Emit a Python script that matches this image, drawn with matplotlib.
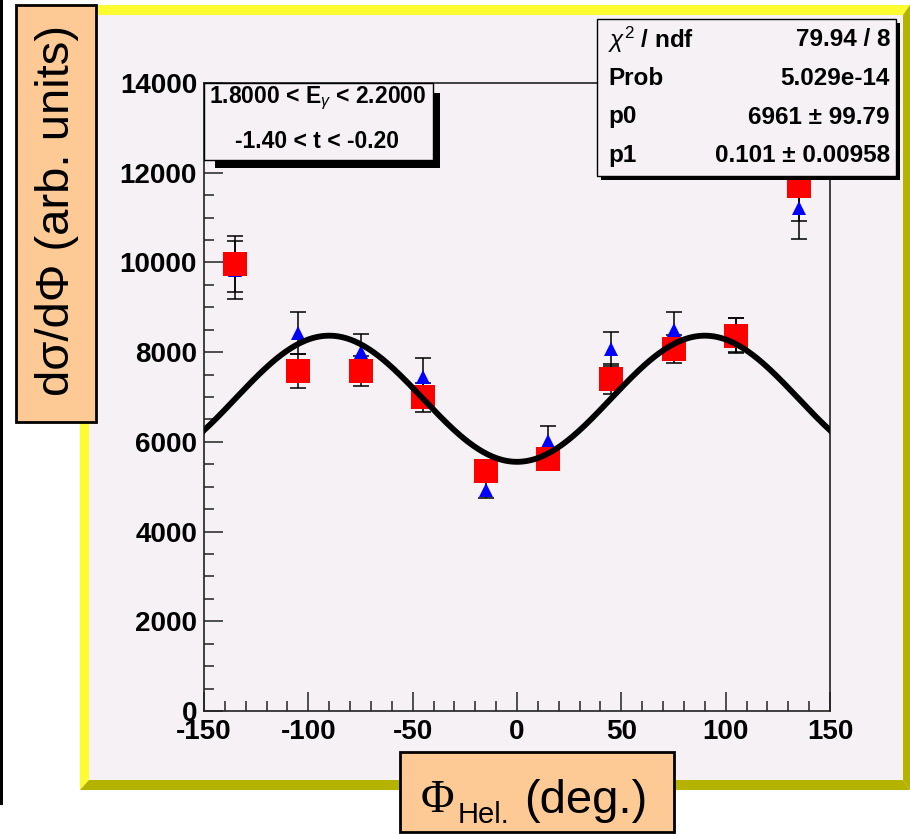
import numpy as np
import matplotlib
matplotlib.use("Agg")
import matplotlib.pyplot as plt
from matplotlib.patches import Rectangle, Polygon

plt.rcParams['font.family'] = ['Liberation Sans', 'DejaVu Sans']
plt.rcParams['mathtext.fontset'] = 'custom'
plt.rcParams['mathtext.rm'] = 'Liberation Sans'
plt.rcParams['mathtext.it'] = 'Liberation Sans:italic'
plt.rcParams['mathtext.bf'] = 'Liberation Sans:bold'

# phi bins (deg.)
phi = [-135, -105, -75, -45, -15, 15, 45, 75, 105, 135]
# red squares
red_y = [9960, 7580, 7580, 6990, 5350, 5620, 7400, 8070, 8370, 11700]
red_err = [620, 380, 330, 325, 220, 220, 330, 310, 400, 780]
# blue triangles
blue_y = [9830, 8430, 8000, 7450, 4930, 6020, 8070, 8490, 8380, 11210]
blue_err = [645, 465, 400, 420, 180, 335, 380, 400, 380, 690]

# fit results
chi2, ndf = 79.94, 8
prob = "5.029e-14"
p0, p0_err = 6961, 99.79
p1, p1_err = 0.101, 0.00958

x_ticks = [-150, -100, -50, 0, 50, 100, 150]
y_ticks = [0, 2000, 4000, 6000, 8000, 10000, 12000, 14000]

W, H = 910, 834
bg = '#f5f1f5'
yellow = '#fcfc30'
olive = '#b4b400'
peach = '#fdca96'

fig = plt.figure(figsize=(W / 100, H / 100), dpi=100)
fig.patch.set_facecolor('white')


def fx(x):
    return x / W


def fy(y):
    return 1 - y / H


def box(x0, y0, x1, y1, **kw):
    r = Rectangle((fx(x0), fy(y1)), (x1 - x0) / W, (y1 - y0) / H,
                  transform=fig.transFigure, **kw)
    fig.patches.append(r)
    return r


def poly(pts, **kw):
    p = Polygon([(fx(a), fy(b)) for a, b in pts], closed=True,
                transform=fig.transFigure, **kw)
    fig.patches.append(p)


# canvas frame with bevelled border
box(0, 0, 3, 805, facecolor='black', edgecolor='none', zorder=-2)
box(80, 5, 910, 790, facecolor=bg, edgecolor='none', zorder=-2)
poly([(80, 5), (910, 5), (903, 15), (89, 15)], facecolor=yellow, edgecolor='none', zorder=-1)
poly([(80, 5), (89, 15), (89, 780), (80, 790)], facecolor=yellow, edgecolor='none', zorder=-1)
poly([(910, 5), (910, 790), (903, 780), (903, 15)], facecolor=olive, edgecolor='none', zorder=-1)
poly([(80, 790), (910, 790), (903, 780), (89, 780)], facecolor=olive, edgecolor='none', zorder=-1)

ax = fig.add_axes([fx(204), fy(711), 626 / W, 628 / H])
ax.set_facecolor(bg)
ax.set_xlim(-150, 150)
ax.set_ylim(0, 14000)

ax.errorbar(phi, blue_y, yerr=blue_err, fmt='none', ecolor='black',
            elinewidth=1.1, capsize=5.5, capthick=1.1, zorder=2)
ax.errorbar(phi, red_y, yerr=red_err, fmt='none', ecolor='black',
            elinewidth=1.1, capsize=5.5, capthick=1.1, zorder=2)
ax.plot(phi, blue_y, '^', color='#0000ff', markersize=10, markeredgewidth=0, zorder=3)
ax.plot(phi, red_y, 's', color='#ff0000', markersize=17, markeredgewidth=0, zorder=4)

xs = np.linspace(-150, 150, 400)
fit = p0 * (1 - 2 * p1 * np.cos(np.radians(2 * xs)))
ax.plot(xs, fit, color='black', linewidth=4.2, zorder=5)

ax.set_xticks(x_ticks)
ax.set_xticks(np.arange(-150, 151, 10), minor=True)
ax.set_yticks(y_ticks)
ax.set_yticks(np.arange(0, 14001, 500), minor=True)
ax.set_xticklabels([str(v) for v in x_ticks])
ax.set_yticklabels([str(v) for v in y_ticks])
ax.tick_params(which='both', direction='in', top=False, right=False, width=1.1, color='#222222')
ax.tick_params(which='major', length=14, labelsize=20, pad=5)
ax.tick_params(axis='x', which='major', pad=6)
ax.tick_params(which='minor', length=7)
for lab in ax.get_xticklabels() + ax.get_yticklabels():
    lab.set_fontweight('bold')
for s in ax.spines.values():
    s.set_linewidth(1.2)
    s.set_color('#222222')

# statistics box
box(601, 23, 900, 180, facecolor='black', edgecolor='none', zorder=6)
box(597, 19, 896, 176, facecolor=bg, edgecolor='black', linewidth=1.0, zorder=7)
rows = [(r'$\chi^{2}$ / ndf', f'{chi2} / {ndf}'),
        ('Prob', prob),
        ('p0', f'{p0} ± {p0_err}'),
        ('p1', f'{p1} ± {p1_err}')]
for i, (lab, val) in enumerate(rows):
    yy = 40 + i * 38.5
    fig.text(fx(608), fy(yy), lab, ha='left', va='center', fontsize=17.5,
             fontweight='bold', zorder=8)
    fig.text(fx(890), fy(yy), val, ha='right', va='center', fontsize=17.5,
             fontweight='bold', zorder=8)

# kinematic range box
box(215, 93, 440, 168, facecolor='black', edgecolor='none', zorder=6)
box(204, 83, 433, 160, facecolor=bg, edgecolor='black', linewidth=1.0, zorder=7)
fig.text(fx(209), fy(98), r'1.8000 < E$_{\gamma}$ < 2.2000', ha='left', va='center',
         fontsize=16.5, fontweight='bold', zorder=8)
fig.text(fx(235), fy(141), '-1.40 < t < -0.20', ha='left', va='center',
         fontsize=16.5, fontweight='bold', zorder=8)

# axis title boxes
box(16, 5, 96, 422, facecolor=peach, edgecolor='black', linewidth=2, zorder=6)
fig.text(fx(57), fy(210), 'dσ/dΦ (arb. units)', rotation=90, ha='center', va='center',
         fontsize=34, zorder=8)

box(400, 752, 674, 832, facecolor=peach, edgecolor='black', linewidth=2, zorder=6)
fig.text(fx(421), fy(812), 'Φ', family='Liberation Serif', ha='left', va='baseline',
         fontsize=33, zorder=8)
fig.text(fx(458), fy(823), 'Hel.', ha='left', va='baseline', fontsize=21, zorder=8)
fig.text(fx(524), fy(813), '(deg.)', ha='left', va='baseline', fontsize=34, zorder=8)

fig.savefig('out.png', dpi=100)
